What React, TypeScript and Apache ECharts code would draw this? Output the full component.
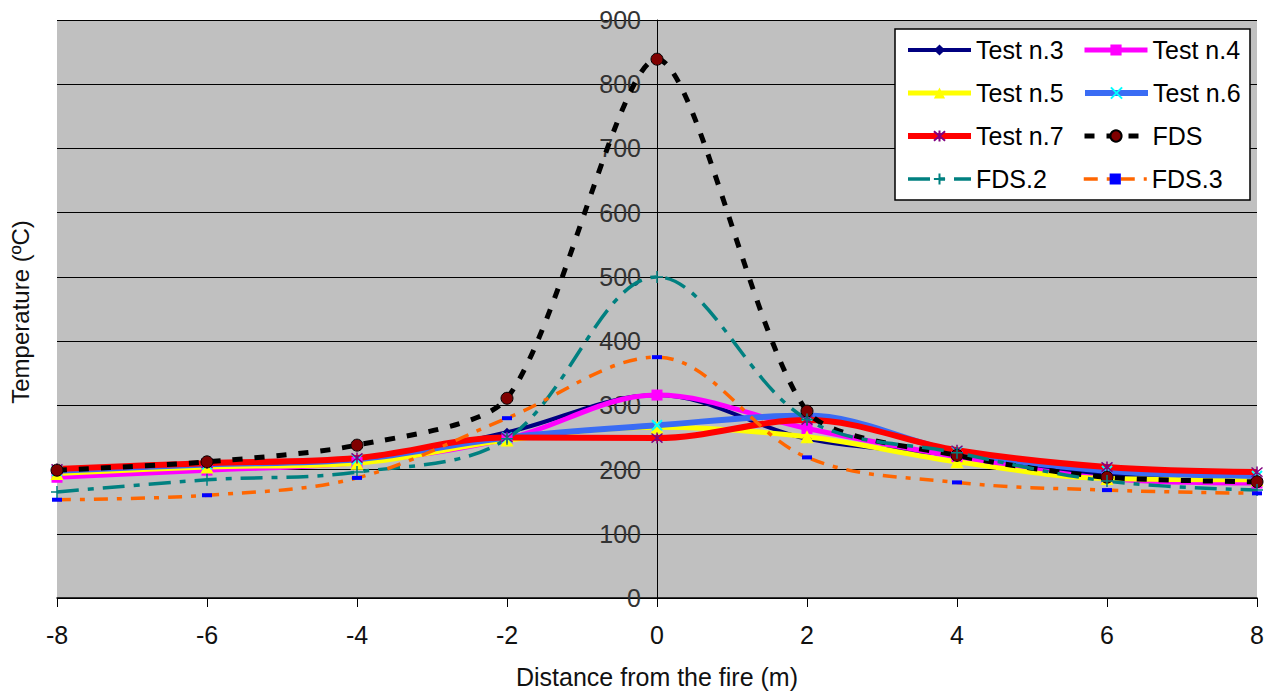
import React, { useEffect, useRef } from "react";
import * as echarts from "echarts";

const distances = [-8, -6, -4, -2, 0, 2, 4, 6, 8];
const test3 = [196, 206, 214, 258, 316, 248, 222, 192, 182];
const test4 = [188, 199, 211, 248, 316, 264, 220, 186, 179];
const test5 = [194, 204, 210, 246, 266, 251, 212, 186, 184];
const test6 = [198, 208, 216, 250, 269, 284, 228, 198, 190];
const test7 = [201, 210, 218, 250, 249, 277, 230, 204, 196];
const fds = [199, 212, 238, 311, 839, 291, 222, 188, 181];
const fds2 = [165, 184, 196, 248, 500, 278, 226, 182, 168];
const fds3 = [153, 160, 187, 280, 375, 219, 180, 168, 163];

const xTitle = "Distance from the fire (m)";
const yTitle = "Temperature (ºC)";

const FONT = "Liberation Sans, Arial, sans-serif";

const pts = (ys: number[]) => distances.map((x, i) => [x, ys[i]]);

export default function App() {
  const ref = useRef<HTMLDivElement>(null);
  useEffect(() => {
    if (!ref.current) return;
    const chart = echarts.init(ref.current, null, { renderer: "svg" });
    const X = "path://M0,0L10,10M10,0L0,10";
    const AST = "path://M0,0L10,10M10,0L0,10M5,-1L5,11";
    const PLUS = "path://M5,0L5,10M0,5L10,5";
    const mk = (
      name: string,
      data: number[],
      color: string,
      width: number,
      type: any,
      symbol: string,
      symbolSize: any,
      itemStyle: any,
      smooth = 0.35
    ) => ({
      name,
      type: "line",
      data: pts(data),
      smooth,
      symbol,
      symbolSize,
      showSymbol: true,
      lineStyle: { color, width, type, cap: "butt" },
      itemStyle,
      emphasis: { disabled: true },
    });
    chart.setOption({
      animation: false,
      grid: {
        left: 57,
        right: 19,
        top: 20,
        bottom: 95,
        show: true,
        backgroundColor: "#C0C0C0",
        borderWidth: 0,
        containLabel: false,
        outerBoundsMode: "none",
      },
      legend: {
        left: 895,
        top: 29,
        width: 362,
        orient: "horizontal",
        itemWidth: 63,
        itemHeight: 14,
        itemGap: 9,
        padding: [4, 0, 4, 10],
        backgroundColor: "#ffffff",
        borderColor: "#000000",
        borderWidth: 1.5,
        lineStyle: { width: "inherit" },
        textStyle: {
          fontFamily: FONT,
          fontSize: 25,
          color: "#000",
          width: 97,
          lineHeight: 34,
        },
        data: ["Test n.3", "Test n.4", "Test n.5", "Test n.6", "Test n.7", "FDS", "FDS.2", "FDS.3"],
      },
      xAxis: {
        type: "value",
        min: -8,
        max: 8,
        interval: 2,
        name: xTitle,
        nameLocation: "middle",
        nameGap: 66,
        nameTextStyle: { fontFamily: FONT, fontSize: 25, color: "#111" },
        axisLine: { onZero: false, lineStyle: { color: "#000", width: 1.5 } },
        axisTick: { show: true, length: 9, lineStyle: { color: "#000" } },
        axisLabel: { fontFamily: FONT, fontSize: 25, color: "#111", margin: 24 },
        splitLine: { show: false },
      },
      yAxis: {
        type: "value",
        min: 0,
        max: 900,
        interval: 100,
        offset: -600,
        axisLine: { show: true, onZero: false, lineStyle: { color: "#000", width: 1 } },
        axisTick: { show: false },
        axisLabel: { fontFamily: FONT, fontSize: 25, color: "#333", margin: 16 },
        splitLine: { show: true, lineStyle: { color: "#000", width: 1 } },
      },
      graphic: [
        {
          type: "text",
          x: 20,
          y: 312,
          rotation: Math.PI / 2,
          style: {
            text: yTitle,
            font: `24px ${FONT}`,
            fill: "#111",
            textAlign: "center",
            textVerticalAlign: "middle",
          },
        },
      ],
      series: [
        mk("Test n.3", test3, "#000080", 4, "solid", "diamond", 9, { color: "#000080" }),
        mk("Test n.4", test4, "#FF00FF", 5, "solid", "rect", 11, { color: "#FF00FF" }),
        mk("Test n.5", test5, "#FFFF00", 5, "solid", "triangle", 13, { color: "#FFFF00" }),
        mk("Test n.6", test6, "#3A6CF4", 6, "solid", X, 10, {
          color: "#00FFFF",
          borderColor: "#00FFFF",
          borderWidth: 2,
        }),
        mk("Test n.7", test7, "#FF0000", 6, "solid", AST, 11, {
          color: "#800080",
          borderColor: "#800080",
          borderWidth: 1.5,
        }),
        mk("FDS", fds, "#000000", 5, [10, 12], "circle", 12, {
          color: "#800000",
          borderColor: "#000000",
          borderWidth: 1,
        }, 0.25),
        mk("FDS.2", fds2, "#008080", 3.5, [22, 9, 6, 9], PLUS, 12, {
          color: "#008080",
          borderColor: "#008080",
          borderWidth: 1.5,
        }),
        mk("FDS.3", fds3, "#FF6600", 3.5, [14, 9, 5, 9], "rect", [10, 4], {
          color: "#0000FF",
        }),
      ],
    });
    return () => chart.dispose();
  }, []);
  return (
    <div
      ref={ref}
      style={{ position: "fixed", left: 0, top: 0, width: 1276, height: 693, background: "#fff" }}
    />
  );
}
